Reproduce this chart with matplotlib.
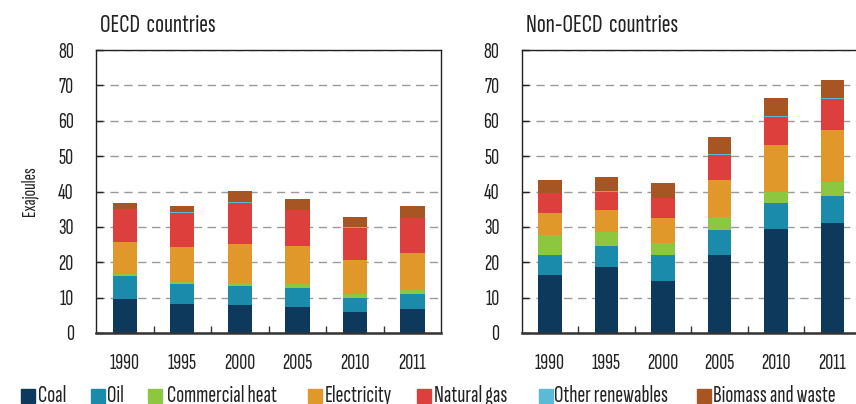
import os
import numpy as np
import matplotlib
matplotlib.use('Agg')
import matplotlib.pyplot as plt
from matplotlib import font_manager
from matplotlib.font_manager import FontProperties
from matplotlib.textpath import TextPath
from matplotlib.patches import Rectangle


def text_px(text, size, prop):
    # width of a text in pixels at 100 dpi
    return TextPath((0, 0), text, size=size, prop=prop).get_extents().width * 100 / 72


# pick the narrowest proportional condensed sans face installed,
# the original uses a condensed sans
best_file = None
best_w = None
for f in font_manager.fontManager.ttflist:
    base = os.path.basename(f.fname)
    if f.style != 'normal' or f.weight not in (400, 'normal', 'regular'):
        continue
    if 'Sans' not in base and 'Sans' not in f.name:
        continue
    if any(k in f.name or k in base for k in ('Mono', 'Serif', 'CJK', 'Math', 'Display')):
        continue
    if not ('Narrow' in f.name or 'Condensed' in f.name or 'Condensed' in base
            or f.stretch in ('condensed', 'semi-condensed', 'extra-condensed',
                             'ultra-condensed')):
        continue
    try:
        fp = FontProperties(fname=f.fname)
        # skip monospaced faces
        if text_px('iiii', 14, fp) / text_px('MMMM', 14, fp) > 0.6:
            continue
        w = text_px('Commercial heat', 14, fp)
    except Exception:
        continue
    if best_w is None or w < best_w:
        best_file, best_w = f.fname, w


def font(size):
    if best_file is not None:
        return FontProperties(fname=best_file, size=size)
    return FontProperties(family='Liberation Sans', size=size)


def fit(text, target_px, max_size):
    # font size giving the target width, capped
    return min(max_size, 14 * target_px / text_px(text, 14, font(14)))


tick_size = fit('1990', 29, 16)
legend_size = fit('Commercial heat', 116, 17)
title_size = fit('OECD  countries', 124, 19)
ylabel_size = fit('Exajoules', 64, 14)

# years on the x axis
years = ['1990', '1995', '2000', '2005', '2010', '2011']

# series names in stacking order
sources = ['Coal', 'Oil', 'Commercial heat', 'Electricity', 'Natural gas',
           'Other renewables', 'Biomass and waste']

# colors for each source
source_color = {'Coal': '#0d3a5c', 'Oil': '#1b8bac', 'Commercial heat': '#8dc63f',
                'Electricity': '#e0982b', 'Natural gas': '#dc3f3c',
                'Other renewables': '#5bbad5', 'Biomass and waste': '#a65523'}

# OECD countries, exajoules
oecd_coal = [9.6, 8.1, 7.8, 7.3, 5.8, 6.9]
oecd_oil = [6.5, 5.8, 5.6, 5.5, 4.2, 4.1]
oecd_heat = [0.7, 0.5, 0.7, 1.1, 1.0, 1.2]
oecd_elec = [8.9, 9.8, 11.2, 10.8, 9.6, 10.3]
oecd_gas = [9.3, 9.8, 11.5, 10.0, 9.2, 10.0]
oecd_other = [0.1, 0.1, 0.1, 0.1, 0.1, 0.1]
oecd_biomass = [1.7, 1.8, 3.2, 3.0, 2.9, 3.2]

# Non-OECD countries, exajoules
non_coal = [16.4, 18.7, 14.8, 22.0, 29.4, 31.1]
non_oil = [5.7, 5.8, 7.2, 7.2, 7.3, 7.7]
non_heat = [5.6, 4.1, 3.4, 3.6, 3.2, 3.8]
non_elec = [6.3, 6.1, 7.1, 10.5, 13.3, 14.9]
non_gas = [5.5, 5.1, 5.6, 7.0, 8.0, 8.6]
non_other = [0.2, 0.2, 0.2, 0.2, 0.2, 0.2]
non_biomass = [3.6, 4.0, 4.2, 4.8, 5.1, 5.3]

oecd = [oecd_coal, oecd_oil, oecd_heat, oecd_elec, oecd_gas, oecd_other, oecd_biomass]
non_oecd = [non_coal, non_oil, non_heat, non_elec, non_gas, non_other, non_biomass]

W, H = 856, 404
fig = plt.figure(figsize=(W / 100, H / 100), dpi=100)

text_color = '#222222'


def px_box(x0, x1, y_top, y_bot):
    # convert pixel box to figure fraction
    return [x0 / W, 1 - y_bot / H, (x1 - x0) / W, (y_bot - y_top) / H]


ax_left = fig.add_axes(px_box(96, 441.3, 50, 333))
ax_right = fig.add_axes(px_box(521.7, 860.7, 50, 333))


def draw_panel(ax, data):
    x = np.arange(len(years)) + 0.5
    bottom = np.zeros(len(years))
    for name, vals in zip(sources, data):
        vals = np.array(vals)
        ax.bar(x, vals, width=0.42, bottom=bottom, color=source_color[name],
               edgecolor='none', zorder=2)
        bottom += vals

    ax.set_xlim(0, len(years))
    ax.set_ylim(0, 80)
    ax.set_yticks(np.arange(0, 81, 10))
    ax.set_yticklabels([str(v) for v in range(0, 81, 10)], fontproperties=font(tick_size))
    ax.set_xticks(x)
    ax.set_xticklabels(years, fontproperties=font(tick_size))
    ax.set_xticks(np.arange(1, len(years)), minor=True)

    ax.tick_params(axis='y', direction='in', length=5, width=1, pad=16,
                   colors=text_color)
    ax.tick_params(axis='x', which='major', length=0, pad=15, labelcolor=text_color)
    ax.tick_params(axis='x', which='minor', direction='in', length=5, width=1,
                   color='#333333')

    ax.set_axisbelow(True)
    ax.yaxis.grid(True, color='#9a9a9a', linewidth=1.0, linestyle=(0, (6, 4)))
    for side in ['top', 'left', 'right']:
        ax.spines[side].set_linewidth(1.0)
        ax.spines[side].set_color(text_color)
    ax.spines['bottom'].set_linewidth(1.8)
    ax.spines['bottom'].set_color('#333333')


draw_panel(ax_left, oecd)
draw_panel(ax_right, non_oecd)

ax_left.set_ylabel('Exajoules', fontproperties=font(ylabel_size), color=text_color,
                   labelpad=14)

# titles
fig.text(100 / W, 1 - 32 / H, 'OECD  countries', fontproperties=font(title_size),
         color=text_color, va='baseline', ha='left')
fig.text(526 / W, 1 - 32 / H, 'Non-OECD  countries', fontproperties=font(title_size),
         color=text_color, va='baseline', ha='left')

# legend along the bottom
legend_sq = [21, 91, 148, 308, 417, 539, 697]
legend_tx = [38, 107, 167, 325, 434, 554, 713]
for name, sx, tx in zip(sources, legend_sq, legend_tx):
    fig.add_artist(Rectangle((sx / W, 1 - 403 / H), 14 / W, 14 / H,
                             transform=fig.transFigure, color=source_color[name]))
    fig.text(tx / W, 1 - 396 / H, name, fontproperties=font(legend_size),
             color=text_color, va='center', ha='left')

fig.savefig('out.png', dpi=100)
